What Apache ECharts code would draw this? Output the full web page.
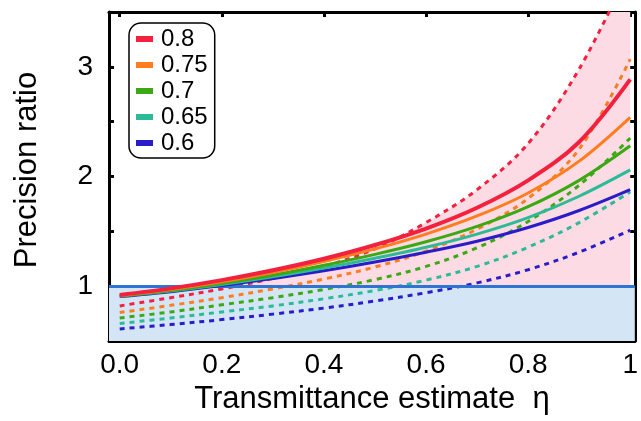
<!DOCTYPE html>
<html><head><meta charset="utf-8">
<script src="https://cdn.jsdelivr.net/npm/echarts@6/dist/echarts.min.js"></script>
<style>html,body{margin:0;padding:0;background:#fff}#c{width:641px;height:421px}</style>
</head><body><div id="c"></div><script>
// eta values (x)
const xValues = [0, 0.1, 0.2, 0.3, 0.4, 0.5, 0.6, 0.7, 0.8, 0.9, 1.0];
// solid curves
const solid08  = [0.92, 0.98, 1.055, 1.145, 1.25, 1.375, 1.525, 1.715, 1.965, 2.315, 2.885];
const solid075 = [0.915, 0.97, 1.04, 1.125, 1.225, 1.34, 1.475, 1.64, 1.85, 2.14, 2.54];
const solid07  = [0.91, 0.96, 1.025, 1.10, 1.19, 1.29, 1.405, 1.545, 1.725, 1.965, 2.28];
const solid065 = [0.91, 0.955, 1.015, 1.085, 1.165, 1.255, 1.355, 1.475, 1.625, 1.82, 2.06];
const solid06  = [0.905, 0.95, 1.005, 1.07, 1.14, 1.22, 1.31, 1.41, 1.535, 1.69, 1.88];
// dashed curves
const dashed08  = [0.82, 0.895, 0.975, 1.07, 1.18, 1.34, 1.58, 1.88, 2.30, 2.98, 3.90];
const dashed075 = [0.76, 0.825, 0.895, 0.975, 1.065, 1.175, 1.32, 1.52, 1.80, 2.25, 3.07];
const dashed07  = [0.71, 0.765, 0.83, 0.895, 0.97, 1.06, 1.18, 1.35, 1.59, 1.92, 2.35];
const dashed065 = [0.66, 0.71, 0.765, 0.82, 0.885, 0.96, 1.055, 1.18, 1.355, 1.58, 1.86];
const dashed06  = [0.61, 0.65, 0.695, 0.745, 0.80, 0.865, 0.94, 1.03, 1.15, 1.31, 1.51];
const legendNames = ['0.8', '0.75', '0.7', '0.65', '0.6'];
const referenceLevel = 1;
const xTicks = [0, 0.2, 0.4, 0.6, 0.8, 1.0];
const xTickLabels = ['0.0', '0.2', '0.4', '0.6', '0.8', '1'];
const yTickLabels = ['1', '2', '3'];

const colors = ['#f3213d', '#ff7d1e', '#3aa914', '#2dba97', '#2a1cc9'];
const solids = [solid08, solid075, solid07, solid065, solid06];
const dashes = [dashed08, dashed075, dashed07, dashed065, dashed06];
const pair = arr => xValues.map((x, i) => [x, arr[i]]);
const FONT = 'Liberation Sans, Arial, sans-serif';
const SMOOTH = 0.35;

const series = [];
series.push({
  type: 'line', name: 'band', symbol: 'none', silent: true, data: [],
  markArea: { silent: true, itemStyle: { color: '#d4e6f6' },
    data: [[{ yAxis: 0.5 }, { yAxis: referenceLevel }]] },
  z: 1
});
// pink region: between reference level and the 0.8 dashed curve
series.push({
  type: 'line', name: 'pinkfill', symbol: 'none', silent: true, smooth: SMOOTH,
  data: xValues.map((x, i) => [x, Math.max(dashed08[i], referenceLevel)]),
  lineStyle: { width: 0, opacity: 0 },
  areaStyle: { color: '#fcdbe4', opacity: 1, origin: referenceLevel },
  z: 2
});
series.push({
  type: 'line', name: 'ref', symbol: 'none', silent: true, data: [],
  markLine: { silent: true, symbol: 'none', label: { show: false },
    lineStyle: { color: '#2e74d2', width: 3, type: 'solid' },
    data: [{ yAxis: referenceLevel }] },
  z: 3
});
for (let k = 4; k >= 0; k--) {
  series.push({
    type: 'line', name: legendNames[k] + ' dashed', data: pair(dashes[k]), smooth: SMOOTH,
    symbol: 'none', color: colors[k],
    lineStyle: { color: colors[k], width: 3, type: [5, 5] }, z: 4
  });
}
for (let k = 4; k >= 0; k--) {
  series.push({
    type: 'line', name: legendNames[k], data: pair(solids[k]), smooth: SMOOTH,
    symbol: 'none', color: colors[k],
    lineStyle: { color: colors[k], width: k === 0 ? 4 : 3 }, z: 5
  });
}

const axisBlack = { color: '#000', width: 3 };
const xMin = -0.021, xMax = 1.009;
const option = {
  backgroundColor: '#fff',
  animation: false,
  textStyle: { fontFamily: FONT },
  grid: { left: 109, right: 2.5, top: 12, bottom: 80 },
  legend: {
    data: legendNames, orient: 'vertical', left: 129, top: 23,
    icon: 'rect', itemWidth: 17, itemHeight: 6, itemGap: 2,
    padding: [4, 7, 3, 7],
    borderColor: '#000', borderWidth: 1.5, borderRadius: 12, backgroundColor: '#fff',
    textStyle: { fontSize: 24, color: '#000', fontFamily: FONT, lineHeight: 24, padding: [0, 0, 0, 3] }
  },
  xAxis: [{
    type: 'value', min: xMin, max: xMax, position: 'bottom',
    axisLine: { show: true, onZero: false, lineStyle: axisBlack },
    axisTick: { show: true, inside: true, length: 5, lineStyle: axisBlack, customValues: xTicks },
    axisLabel: { customValues: xTicks, fontSize: 28, color: '#000', margin: 10, fontFamily: FONT,
      formatter: v => xTickLabels[Math.round(v * 5)] },
    splitLine: { show: false },
    name: 'Transmittance estimate  η', nameLocation: 'middle', nameGap: 42,
    nameTextStyle: { fontSize: 31, color: '#000', fontFamily: FONT }
  }, {
    type: 'value', min: xMin, max: xMax, position: 'top',
    axisLine: { show: true, onZero: false, lineStyle: axisBlack },
    axisTick: { show: true, inside: true, length: 5, lineStyle: axisBlack, customValues: xTicks },
    axisLabel: { show: false }, splitLine: { show: false }
  }],
  yAxis: [{
    type: 'value', min: 0.5, max: 3.5, interval: 0.5, position: 'left',
    axisLine: { show: true, onZero: false, lineStyle: axisBlack },
    axisTick: { show: true, inside: true, length: 5, lineStyle: axisBlack },
    axisLabel: { fontSize: 28, color: '#000', margin: 16, fontFamily: FONT,
      formatter: v => (Number.isInteger(v) && yTickLabels.includes(String(v))) ? String(v) : '' },
    splitLine: { show: false },
    name: 'Precision ratio', nameLocation: 'middle', nameGap: 66,
    nameTextStyle: { fontSize: 31, color: '#000', fontFamily: FONT, padding: [0, 0, 0, 13] }
  }, {
    type: 'value', min: 0.5, max: 3.5, interval: 0.5, position: 'right',
    axisLine: { show: true, onZero: false, lineStyle: axisBlack },
    axisTick: { show: true, inside: true, length: 5, lineStyle: axisBlack },
    axisLabel: { show: false }, splitLine: { show: false }
  }],
  series: series
};
const chart = echarts.init(document.getElementById('c'), null, { renderer: 'canvas' });
chart.setOption(option);
</script></body></html>
